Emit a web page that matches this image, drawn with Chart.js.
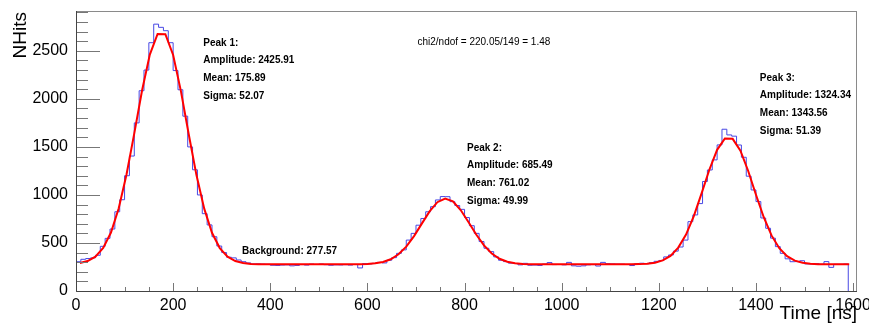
<!DOCTYPE html>
<html>
<head>
<meta charset="utf-8">
<script src="https://cdn.jsdelivr.net/npm/chart.js@4.4.1/dist/chart.umd.min.js"></script>
<style>
  html, body { margin: 0; padding: 0; background: #fff; }
  #wrap { width: 869px; height: 325px; }
</style>
</head>
<body>
<div id="wrap"><canvas id="c" width="869" height="325"></canvas></div>
<script>
// histogram, 10 ns bins from 0 to 1590
const binStart = 0;
const binWidth = 10;
const counts = [
  305, 330, 338, 345, 372, 465, 548, 645, 825, 950,
  1200, 1405, 1750, 2085, 2300, 2585, 2778, 2745, 2710, 2585,
  2295, 2095, 1820, 1500, 1262, 1000, 805, 688, 565, 468,
  400, 352, 345, 323, 305, 292, 282, 283, 280, 278,
  268, 266, 270, 272, 262, 266, 275, 270, 280, 276,
  281, 274, 268, 272, 271, 274, 270, 276, 240, 285,
  282, 288, 298, 292, 320, 347, 392, 428, 530, 600,
  685, 755, 825, 878, 948, 983, 982, 930, 890, 850,
  765, 680, 600, 515, 445, 410, 355, 320, 306, 290,
  286, 272, 288, 268, 270, 266, 280, 296, 275, 276,
  272, 298, 262, 258, 262, 272, 275, 260, 298, 285,
  282, 280, 279, 276, 265, 283, 289, 284, 295, 309,
  318, 355, 375, 415, 458, 530, 722, 792, 910, 1140,
  1260, 1365, 1521, 1684, 1625, 1612, 1520, 1392, 1195, 1052,
  931, 760, 653, 550, 462, 392, 335, 305, 306, 315,
  282, 281, 285, 278, 306, 246, 278, 278, 281
];

// fitted curve, sampled every 16 ns from 8 ns
const fitStart = 8;
const fitStep = 16;
const fitValues = [
  291, 312, 358, 449, 609, 861, 1213, 1641, 2087, 2461,
  2676, 2674, 2457, 2081, 1635, 1207, 857, 606, 447, 357,
  312, 291, 282, 279, 278, 277.6, 277.6, 277.6, 277.6, 277.6,
  277.6, 277.6, 277.6, 277.6, 277.6, 278.0, 278.9, 281.4, 287.8, 302.1,
  330.8, 381.9, 461.9, 571.8, 701.4, 828.7, 924.5, 962.9, 933.0, 843.3,
  718.4, 587.6, 474.4, 390.4, 335.9, 304.8, 289.1, 282.0, 279.1, 278.1,
  277.6, 277.6, 277.6, 277.6, 277.6, 277.6, 277.6, 277.6, 277.6, 277.6,
  277.8, 278.3, 279.8, 284.1, 294.7, 318.4, 366.0, 451.5, 587.8, 779.9,
  1015.8, 1262.4, 1469.8, 1587.7, 1584.2, 1460.4, 1249.3, 1002.1, 768.0, 578.8,
  445.5, 362.6, 316.6, 293.9, 283.7, 279.7, 278.2, 277.7, 277.6, 277.6
];

const xTickValues = [0, 200, 400, 600, 800, 1000, 1200, 1400, 1600];
const yTickValues = [0, 500, 1000, 1500, 2000, 2500];
const xMin = 0, xMax = 1608;
const yMin = 0, yMax = 2915;
const xMinor = 50, yMinor = 100;

const peak1Text = ['Peak 1:', 'Amplitude: 2425.91', 'Mean: 175.89', 'Sigma: 52.07'];
const peak2Text = ['Peak 2:', 'Amplitude: 685.49', 'Mean: 761.02', 'Sigma: 49.99'];
const peak3Text = ['Peak 3:', 'Amplitude: 1324.34', 'Mean: 1343.56', 'Sigma: 51.39'];
const bkgText = 'Background: 277.57';
const chiText = 'chi2/ndof = 220.05/149 = 1.48';

const FONT = '"Liberation Sans", Arial, Helvetica, sans-serif';

const histPoints = counts.map((v, i) => ({ x: binStart + i * binWidth, y: v }));
histPoints.push({ x: binStart + counts.length * binWidth, y: 0 });
const fitPoints = fitValues.map((v, i) => ({ x: fitStart + i * fitStep, y: v }));

// ROOT-like frame: inward ticks, gray box, text boxes
const rootFrame = {
  id: 'rootFrame',
  afterDraw(chart) {
    const { ctx, chartArea: a, scales: { x, y } } = chart;
    ctx.save();
    ctx.lineWidth = 1;
    ctx.strokeStyle = '#8a8a8a';
    ctx.strokeRect(a.left + 0.5, a.top + 0.5, a.right - a.left - 1, a.bottom - a.top);

    ctx.strokeStyle = '#777';
    ctx.beginPath();
    for (let v = yMin; v <= yMax; v += yMinor) {
      const p = Math.round(y.getPixelForValue(v)) + 0.5;
      const len = yTickValues.includes(v) ? 24 : 12;
      ctx.moveTo(a.left, p);
      ctx.lineTo(a.left + len, p);
    }
    for (let v = xMin; v <= xMax; v += xMinor) {
      const p = Math.round(x.getPixelForValue(v)) + 0.5;
      const len = xTickValues.includes(v) ? 8 : 4;
      ctx.moveTo(p, a.bottom);
      ctx.lineTo(p, a.bottom - len);
    }
    ctx.stroke();

    ctx.strokeStyle = '#444';
    ctx.beginPath();
    ctx.moveTo(a.left + 0.5, a.top);
    ctx.lineTo(a.left + 0.5, a.bottom + 0.5);
    ctx.lineTo(a.right, a.bottom + 0.5);
    ctx.stroke();

    ctx.fillStyle = '#000';
    ctx.textAlign = 'left';
    ctx.textBaseline = 'middle';
    const block = (lines, dx, dy) => {
      ctx.font = 'bold 10px ' + FONT;
      lines.forEach((t, i) => ctx.fillText(t, x.getPixelForValue(dx), y.getPixelForValue(dy) + i * 17.7));
    };
    block(peak1Text, 262, 2582);
    block(peak2Text, 805, 1489);
    block(peak3Text, 1408, 2218);
    block([bkgText], 342, 409);
    ctx.font = '10px ' + FONT;
    ctx.fillText(chiText, x.getPixelForValue(703), y.getPixelForValue(2585));

    ctx.font = '19px ' + FONT;
    ctx.textAlign = 'right';
    ctx.textBaseline = 'alphabetic';
    ctx.fillText('Time [ns]', a.right, 319);

    ctx.translate(26, a.top + 1);
    ctx.rotate(-Math.PI / 2);
    ctx.textAlign = 'right';
    ctx.fillText('NHits', 0, 0);
    ctx.restore();
  }
};

new Chart(document.getElementById('c'), {
  type: 'line',
  data: {
    datasets: [
      {
        label: 'fit',
        data: fitPoints,
        borderColor: '#ff0000',
        borderWidth: 2,
        pointRadius: 0,
        tension: 0
      },
      {
        label: 'NHits',
        data: histPoints,
        borderColor: '#4848e4',
        borderWidth: 1,
        pointRadius: 0,
        stepped: true
      }
    ]
  },
  options: {
    responsive: false,
    animation: false,
    devicePixelRatio: 1,
    layout: { padding: { left: 0, right: 12, top: 11, bottom: 0 } },
    plugins: { legend: { display: false }, tooltip: { enabled: false } },
    scales: {
      x: {
        type: 'linear',
        min: xMin,
        max: xMax,
        grid: { display: false, drawTicks: false },
        border: { display: false },
        ticks: {
          autoSkip: false,
          padding: 5,
          color: '#000',
          maxRotation: 0,
          font: { family: FONT, size: 16 },
          callback: v => String(v)
        },
        afterBuildTicks: s => { s.ticks = xTickValues.map(v => ({ value: v })); },
        afterFit: s => {
          s.height = 34;
          s.paddingLeft = 0;
          s.paddingRight = 0;
        }
      },
      y: {
        type: 'linear',
        min: yMin,
        max: yMax,
        grid: { display: false, drawTicks: false },
        border: { display: false },
        ticks: {
          autoSkip: false,
          padding: 8,
          color: '#000',
          font: { family: FONT, size: 16 },
          callback: v => String(v)
        },
        afterBuildTicks: s => { s.ticks = yTickValues.map(v => ({ value: v })); },
        afterFit: s => {
          s.width = 76;
          s.paddingTop = 0;
          s.paddingBottom = 0;
        }
      }
    }
  },
  plugins: [rootFrame]
});
</script>
</body>
</html>
